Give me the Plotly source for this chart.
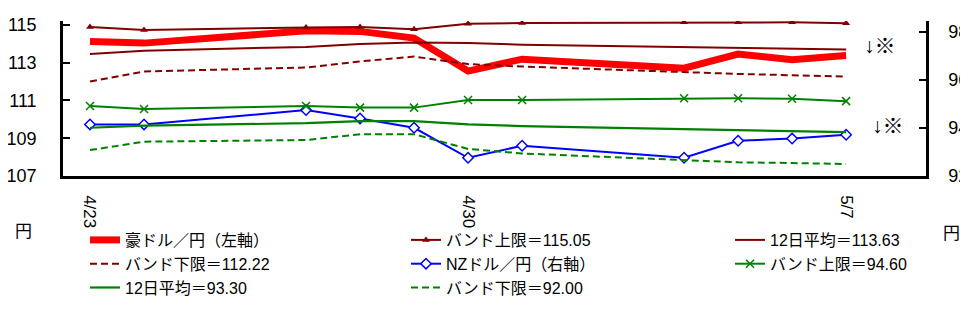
import plotly.graph_objects as go

dates = ["2015-04-23", "2015-04-24", "2015-04-27", "2015-04-28", "2015-04-29",
         "2015-04-30", "2015-05-01", "2015-05-04", "2015-05-05", "2015-05-06", "2015-05-07"]
tick_dates = ["2015-04-23", "2015-04-30", "2015-05-07"]
tick_text = ["4/23", "4/30", "5/7"]

aud_jpy = [114.11, 114.03, 114.68, 114.65, 114.30, 112.55, 113.18, 112.70, 113.45, 113.15, 113.37]
aud_upper = [114.88, 114.73, 114.86, 114.88, 114.77, 115.05, 115.09, 115.13, 115.13, 115.13, 115.08]
aud_avg = [113.45, 113.63, 113.83, 113.98, 114.06, 114.03, 113.95, 113.80, 113.76, 113.73, 113.69]
aud_lower = [112.00, 112.53, 112.74, 113.06, 113.32, 112.92, 112.79, 112.47, 112.40, 112.33, 112.26]

nzd_jpy = [94.15, 94.15, 94.75, 94.40, 94.01, 92.76, 93.26, 92.76, 93.47, 93.56, 93.72]
nzd_upper = [94.92, 94.79, 94.92, 94.85, 94.85, 95.17, 95.17, 95.24, 95.24, 95.22, 95.12]
nzd_avg = [94.01, 94.10, 94.20, 94.29, 94.29, 94.15, 94.08, 93.96, 93.92, 93.88, 93.83]
nzd_lower = [93.08, 93.43, 93.50, 93.74, 93.74, 93.13, 92.94, 92.64, 92.57, 92.54, 92.50]

left_ticks = [107, 109, 111, 113, 115]
right_ticks = [92, 94, 96, 98]

names = ["豪ドル／円（左軸）", "バンド上限＝115.05", "12日平均＝113.63", "バンド下限＝112.22",
         "NZドル／円（右軸）", "バンド上限＝94.60", "12日平均＝93.30", "バンド下限＝92.00"]

RED = "#FF0000"
DRED = "#800000"
BLUE = "#0000FF"
GREEN = "#008000"

fig = go.Figure()
fig.add_trace(go.Scatter(x=dates, y=aud_jpy, name=names[0], mode="lines", legend="legend",
                         line=dict(color=RED, width=7)))
fig.add_trace(go.Scatter(x=dates, y=aud_upper, name=names[1], mode="lines+markers", legend="legend2",
                         line=dict(color=DRED, width=2),
                         marker=dict(symbol="triangle-up", size=7, color=DRED)))
fig.add_trace(go.Scatter(x=dates, y=aud_avg, name=names[2], mode="lines", legend="legend3",
                         line=dict(color=DRED, width=2)))
fig.add_trace(go.Scatter(x=dates, y=aud_lower, name=names[3], mode="lines", legend="legend",
                         line=dict(color=DRED, width=2, dash="7px,4px")))
fig.add_trace(go.Scatter(x=dates, y=nzd_jpy, name=names[4], mode="lines+markers", yaxis="y2",
                         legend="legend2",
                         line=dict(color=BLUE, width=2),
                         marker=dict(symbol="diamond", size=8, color="white",
                                     line=dict(color=BLUE, width=1.5))))
fig.add_trace(go.Scatter(x=dates, y=nzd_upper, name=names[5], mode="lines+markers", yaxis="y2",
                         legend="legend3",
                         line=dict(color=GREEN, width=2),
                         marker=dict(symbol="x-thin", size=8,
                                     line=dict(color=GREEN, width=1.5))))
fig.add_trace(go.Scatter(x=dates, y=nzd_avg, name=names[6], mode="lines", yaxis="y2",
                         legend="legend",
                         line=dict(color=GREEN, width=2.2)))
fig.add_trace(go.Scatter(x=dates, y=nzd_lower, name=names[7], mode="lines", yaxis="y2",
                         legend="legend2",
                         line=dict(color=GREEN, width=2, dash="7px,4px")))

FONT = "Liberation Sans, Arial, Noto Sans CJK JP"
W, H = 960, 309  # page body adds an 8px offset


def leg(xpx):
    return dict(orientation="v", xref="container", yref="container",
                x=xpx / W, xanchor="left", y=1 - 215 / H, yanchor="top",
                font=dict(size=16, family=FONT), tracegroupgap=0,
                bgcolor="rgba(0,0,0,0)", borderwidth=0)


def note(text, x, y, size):
    return dict(text=text, xref="paper", yref="paper", x=x, y=y, showarrow=False,
                xanchor="center", yanchor="middle", font=dict(size=size))


fig.update_layout(
    width=W, height=H,
    margin=dict(l=55, r=42, t=13, b=141, autoexpand=False),
    paper_bgcolor="white", plot_bgcolor="white",
    font=dict(family=FONT, size=17, color="black"),
    showlegend=True,
    legend=leg(77), legend2=leg(398), legend3=leg(722),
    xaxis=dict(type="date", range=["2015-04-22 12:00", "2015-05-08 11:30"],
               tickvals=tick_dates, ticktext=tick_text, tickangle=90,
               showgrid=False, zeroline=False, showline=True, linecolor="black",
               linewidth=2.5, ticks="", ticklabelstandoff=13, automargin=False,
               tickfont=dict(size=17)),
    yaxis=dict(range=[107, 115.2], tickvals=left_ticks, showgrid=False, zeroline=False,
               showline=True, linecolor="black", linewidth=2.5, automargin=False,
               ticks="inside", ticklen=7, tickwidth=2, tickcolor="black",
               ticklabelstandoff=20, tickfont=dict(size=18)),
    yaxis2=dict(range=[92, 98.46], tickvals=right_ticks, overlaying="y", side="right",
                showgrid=False, zeroline=False, showline=True, linecolor="black",
                linewidth=2.5, ticks="inside", ticklen=7, tickwidth=2, tickcolor="black",
                automargin=False,
                ticklabelstandoff=16, tickfont=dict(size=18)),
    annotations=[
        note("↓※", 0.9467, 0.845, 21),
        note("↓※", 0.956, 0.3226, 21),
        note("円", -0.0452, -0.361, 17),
        note("円", 1.03, -0.368, 17),
    ],
)

fig.write_html("out.html")
